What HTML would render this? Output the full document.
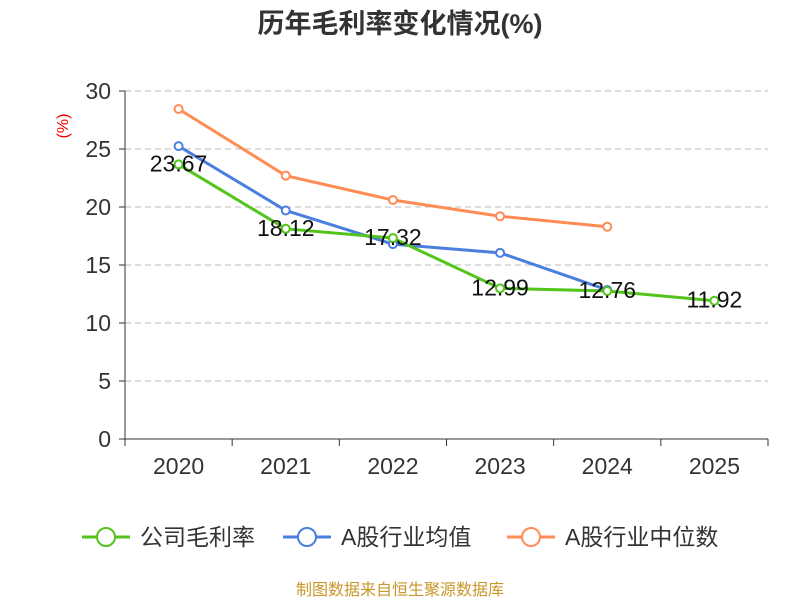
<!DOCTYPE html>
<html><head><meta charset="utf-8"><style>
body{margin:0;background:#fff;}
svg{display:block;font-family:"Liberation Sans","Noto Sans CJK SC",sans-serif;}
</style></head><body>
<svg id="c" width="800" height="600">
<text x="400" y="33" text-anchor="middle" font-size="27" font-weight="bold" fill="#333">历年毛利率变化情况(%)</text>
<text transform="translate(68,126) rotate(-90)" text-anchor="middle" font-size="16" fill="#e00">(%)</text>
<g id="grid"></g><g id="axes"></g><g id="series"></g>
<g>
<g><line x1="82" y1="537" x2="130" y2="537" stroke="#52c41a" stroke-width="3"/><circle cx="106" cy="537" r="9" fill="#fff" stroke="#52c41a" stroke-width="2"/><text x="140" y="545" font-size="23" fill="#333">公司毛利率</text></g>
<g><line x1="283" y1="537" x2="331" y2="537" stroke="#4a7fe0" stroke-width="3"/><circle cx="307" cy="537" r="9" fill="#fff" stroke="#4a7fe0" stroke-width="2"/><text x="341" y="545" font-size="23" fill="#333">A股行业均值</text></g>
<g><line x1="507" y1="537" x2="555" y2="537" stroke="#ff8c55" stroke-width="3"/><circle cx="531" cy="537" r="9" fill="#fff" stroke="#ff8c55" stroke-width="2"/><text x="565" y="545" font-size="23" fill="#333">A股行业中位数</text></g>
</g>
<text x="400" y="595" text-anchor="middle" font-size="16" fill="#c8962a">制图数据来自恒生聚源数据库</text>
</svg>
<script>
const categories=["2020","2021","2022","2023","2024","2025"];
const companyValues=[23.67,18.12,17.32,12.99,12.76,11.92];
const industryAvg=[25.25,19.7,16.8,16.05,12.85];
const industryMedian=[28.45,22.7,20.6,19.2,18.3];
const yTicks=[0,5,10,15,20,25,30];
const NS="http://www.w3.org/2000/svg";
const x0=125,x1=768,yb=439,yt=91,yMax=30;
const bw=(x1-x0)/categories.length;
const xs=i=>x0+bw*(i+0.5);
const ys=v=>yb-(v/yMax)*(yb-yt);
function mk(tag,attrs,parent,txt){const e=document.createElementNS(NS,tag);for(const k in attrs)e.setAttribute(k,attrs[k]);if(txt!=null)e.textContent=txt;parent.appendChild(e);return e;}
const grid=document.getElementById('grid'),axes=document.getElementById('axes'),ser=document.getElementById('series');
yTicks.forEach(t=>{
 if(t>0){const g=mk('line',{x1:x0,x2:x1,y1:ys(t),y2:ys(t),stroke:'#bbb','stroke-dasharray':'6,4'},grid);
 
 }
 const tk=mk('line',{x1:x0-6,x2:x0,y1:ys(t),y2:ys(t),stroke:'#333'},axes);
 
 
 const l=mk('text',{x:x0-14,y:ys(t)+8,'text-anchor':'end','font-size':'23',fill:'#333'},axes,t);
 
 
});
const ya=mk('line',{x1:x0,x2:x0,y1:yt,y2:yb,stroke:'#333'},axes);


const xa=mk('line',{x1:x0,x2:x1,y1:yb,y2:yb,stroke:'#333'},axes);


for(let i=0;i<=categories.length;i++){const t=mk('line',{x1:x0+bw*i,x2:x0+bw*i,y1:yb,y2:yb+7,stroke:'#333'},axes);
 
 }
categories.forEach((c,i)=>{const l=mk('text',{x:xs(i),y:474,'text-anchor':'middle','font-size':'23',fill:'#333'},axes,c);
 
 });
function series(vals,color,name,labels){
 const g=mk('g',{},ser);
 
 
 const p=mk('polyline',{points:vals.map((v,i)=>xs(i)+','+ys(v)).join(' '),fill:'none',stroke:color,'stroke-width':3},g);
 
 
 vals.forEach((v,i)=>{const c=mk('circle',{cx:xs(i),cy:ys(v),r:4,fill:'#fff',stroke:color,'stroke-width':2},g);
  
  
  if(labels){const t=mk('text',{x:xs(i),y:ys(v)+7,'text-anchor':'middle','font-size':'23',fill:'#111'},g,v.toFixed(2));
  
  }
 });
}
series(industryMedian,'#ff8c55','industry-median-series',false);
series(industryAvg,'#4a7fe0','industry-average-series',false);
series(companyValues,'#52c41a','company-series',true);
</script>
</body></html>
